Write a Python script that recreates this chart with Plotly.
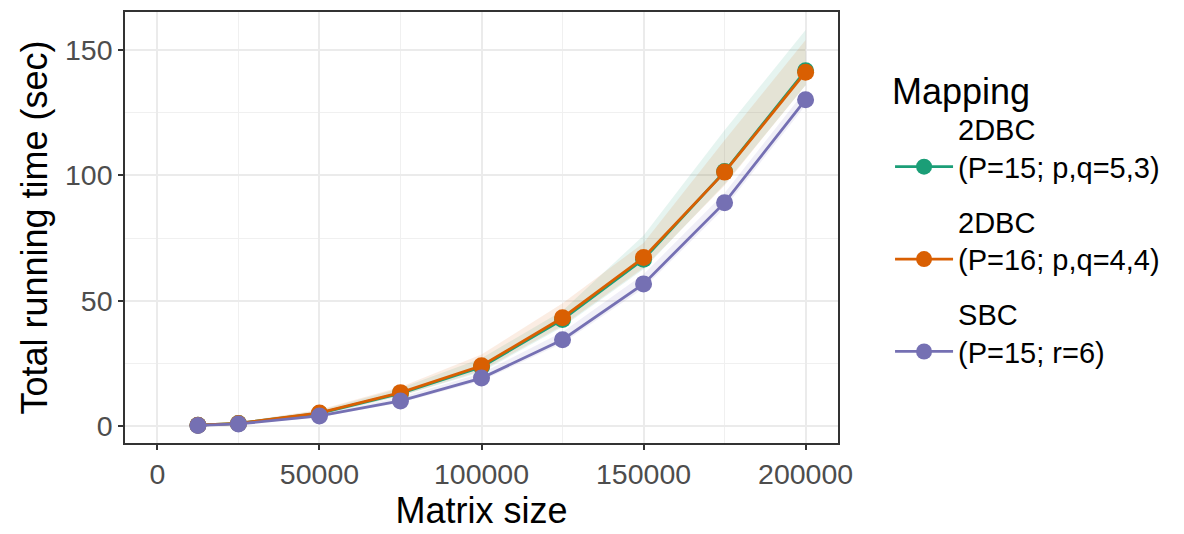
import plotly.graph_objects as go

# ---- data ----
matrix_size = [12500, 25000, 50000, 75000, 100000, 125000, 150000, 175000, 200000]

series_names = ["2DBC<br>(P=15; p,q=5,3)", "2DBC<br>(P=16; p,q=4,4)", "SBC<br>(P=15; r=6)"]

time_2dbc_15 = [0.3, 1.0, 5.0, 13.0, 23.5, 42.5, 66.5, 101.5, 141.8]
time_2dbc_16 = [0.3, 1.0, 5.2, 13.3, 24.0, 43.2, 67.2, 101.3, 141.2]
time_sbc_15 = [0.2, 0.8, 4.0, 10.0, 19.1, 34.4, 56.7, 89.1, 130.2]

upper_2dbc_15 = [0.5, 1.5, 6.2, 15.0, 27.0, 46.0, 76.0, 118.0, 158.0]
lower_2dbc_15 = [0.2, 0.8, 4.4, 12.0, 21.5, 39.5, 62.5, 96.5, 136.0]
upper_2dbc_16 = [0.5, 1.5, 6.5, 15.5, 28.5, 49.0, 73.0, 114.0, 154.0]
lower_2dbc_16 = [0.2, 0.8, 4.5, 12.0, 22.0, 40.0, 63.0, 96.0, 136.0]
upper_sbc_15 = [0.3, 1.1, 4.8, 11.5, 21.0, 37.5, 60.5, 93.0, 134.0]
lower_sbc_15 = [0.1, 0.6, 3.5, 9.3, 18.0, 33.0, 55.0, 87.0, 128.0]

x_tickvals = [0, 50000, 100000, 150000, 200000]
x_ticktext = ["0", "50000", "100000", "150000", "200000"]
y_tickvals = [0, 50, 100, 150]
y_ticktext = ["0", "50", "100", "150"]

colors = ["#1B9E77", "#D95F02", "#7570B3"]
fills = ["rgba(27,158,119,0.11)", "rgba(217,95,2,0.11)", "rgba(117,112,179,0.11)"]

means = [time_2dbc_15, time_2dbc_16, time_sbc_15]
uppers = [upper_2dbc_15, upper_2dbc_16, upper_sbc_15]
lowers = [lower_2dbc_15, lower_2dbc_16, lower_sbc_15]

FONT = "Liberation Sans, Arial, Helvetica, sans-serif"

fig = go.Figure()

for up, lo, fc in zip(uppers, lowers, fills):
    fig.add_trace(go.Scatter(x=matrix_size, y=up, mode="lines", line=dict(width=0),
                             showlegend=False, hoverinfo="skip"))
    fig.add_trace(go.Scatter(x=matrix_size, y=lo, mode="lines", line=dict(width=0),
                             fill="tonexty", fillcolor=fc, showlegend=False, hoverinfo="skip"))

for i, (name, m, c) in enumerate(zip(series_names, means, colors)):
    fig.add_trace(go.Scatter(x=matrix_size, y=m, mode="lines+markers", name=name,
                             legendgroup=f"g{i}",
                             line=dict(color=c, width=2.8),
                             marker=dict(color=c, size=17)))

# the page body has an 8px default margin, so the margins are offset by it
fig.update_layout(
    width=1184, height=534,
    margin=dict(l=117, r=354, t=4, b=99),
    paper_bgcolor="white", plot_bgcolor="white",
    font=dict(family=FONT, color="black"),
    showlegend=True,
    legend=dict(
        x=1.073, y=0.896, xanchor="left", yanchor="top",
        title=dict(text="Mapping", font=dict(size=36, color="black")),
        font=dict(size=29, color="black"),
        valign="bottom",
        traceorder="grouped",
        tracegroupgap=14,
        itemwidth=58,
        bgcolor="rgba(0,0,0,0)",
    ),
)

axis_common = dict(
    showline=True, mirror=True, linecolor="#333333", linewidth=1.5,
    ticks="outside", ticklen=5, tickwidth=1.5, tickcolor="#333333",
    tickfont=dict(size=28.5, color="#4D4D4D"),
    showgrid=True, gridcolor="#EBEBEB", gridwidth=1.6,
    zeroline=False, automargin=False,
)

fig.update_xaxes(
    range=[-10000, 210000],
    tickmode="array", tickvals=x_tickvals, ticktext=x_ticktext,
    minor=dict(dtick=25000, tick0=0, showgrid=True, gridcolor="#F0F0F0", gridwidth=1.0, ticks=""),
    title=dict(text="Matrix size", font=dict(size=36, color="black"), standoff=4),
    **axis_common,
)
fig.update_yaxes(
    range=[-6.8, 165.2],
    tickmode="array", tickvals=y_tickvals, ticktext=y_ticktext,
    minor=dict(dtick=25, tick0=0, showgrid=True, gridcolor="#F0F0F0", gridwidth=1.0, ticks=""),
    title=dict(text="Total running time (sec)", font=dict(size=36, color="black"), standoff=6),
    **axis_common,
)

fig.write_html("out.html")
